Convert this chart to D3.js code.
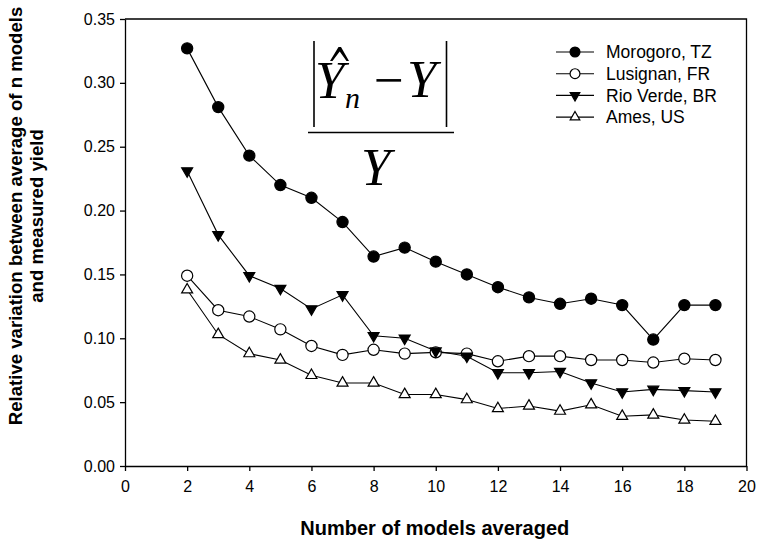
<!DOCTYPE html>
<html>
<head>
<meta charset="utf-8">
<script src="https://cdn.jsdelivr.net/npm/d3@7"></script>
<style>
  html, body { margin: 0; padding: 0; background: #fff; }
  svg { display: block; }
</style>
</head>
<body>
<svg id="chart" width="764" height="549"></svg>
<script>
// Number of models averaged (x) and relative yield error per site
const nModels = [2, 3, 4, 5, 6, 7, 8, 9, 10, 11, 12, 13, 14, 15, 16, 17, 18, 19];
const morogoro = [0.327, 0.281, 0.243, 0.220, 0.210, 0.191, 0.164, 0.171, 0.160, 0.150, 0.140, 0.132, 0.127, 0.131, 0.126, 0.099, 0.126, 0.126];
const lusignan = [0.149, 0.122, 0.117, 0.107, 0.094, 0.087, 0.091, 0.088, 0.089, 0.088, 0.082, 0.086, 0.086, 0.083, 0.083, 0.081, 0.084, 0.083];
const rioVerde = [0.231, 0.181, 0.149, 0.139, 0.123, 0.134, 0.102, 0.100, 0.090, 0.086, 0.073, 0.073, 0.074, 0.065, 0.058, 0.060, 0.059, 0.058];
const ames     = [0.138, 0.103, 0.088, 0.083, 0.071, 0.065, 0.065, 0.056, 0.056, 0.052, 0.045, 0.047, 0.043, 0.048, 0.039, 0.040, 0.036, 0.035];

const seriesNames = ["Morogoro, TZ", "Lusignan, FR", "Rio Verde, BR", "Ames, US"];
const seriesValues = [morogoro, lusignan, rioVerde, ames];
const seriesMarkers = ["circleFilled", "circleOpen", "triangleDownFilled", "triangleUpOpen"];

const xTicks = [0, 2, 4, 6, 8, 10, 12, 14, 16, 18, 20];
const yTicks = [0, 0.05, 0.10, 0.15, 0.20, 0.25, 0.30, 0.35];

const xTitle = "Number of models averaged";
const yTitleLines = ["Relative variation between average of n models", "and measured yield"];

const svg = d3.select("#chart");
const plot = { left: 125, right: 746.5, top: 19, bottom: 466 };

const x = d3.scaleLinear().domain([0, 20]).range([plot.left, plot.right]);
const y = d3.scaleLinear().domain([0, 0.35]).range([plot.bottom, plot.top]);

const sans = "Liberation Sans, Arial, sans-serif";
const serif = "Liberation Serif, Times New Roman, serif";

// Frame: top and right edges
svg.append("path")
  .attr("d", `M${plot.left},${plot.top}H${plot.right}V${plot.bottom}`)
  .attr("fill", "none").attr("stroke", "#000").attr("stroke-width", 1.3);

// Axes
const xAxis = svg.append("g")
  .attr("transform", `translate(0,${plot.bottom})`)
  .call(d3.axisBottom(x).tickValues(xTicks).tickFormat(d3.format("d")).tickSizeOuter(0).tickSizeInner(5).tickPadding(10));
const yAxis = svg.append("g")
  .attr("transform", `translate(${plot.left},0)`)
  .call(d3.axisLeft(y).tickValues(yTicks).tickFormat(d3.format(".2f")).tickSizeOuter(0).tickSizeInner(5).tickPadding(5));

[xAxis, yAxis].forEach(g => {
  g.select(".domain").attr("stroke", "#000").attr("stroke-width", 1.3);
  g.selectAll(".tick line").attr("stroke", "#000").attr("stroke-width", 1.3);
  g.selectAll(".tick text").attr("fill", "#000").attr("font-family", sans).attr("font-size", 16);
});

// Axis titles
svg.append("text")
  .attr("x", (plot.left + plot.right) / 2 - 1)
  .attr("y", 535)
  .attr("text-anchor", "middle")
  .attr("font-family", sans).attr("font-weight", "bold").attr("font-size", 20)
  .text(xTitle);

const yTitle = svg.append("text")
  .attr("transform", "translate(0,216) rotate(-90)")
  .attr("text-anchor", "middle")
  .attr("font-family", sans).attr("font-weight", "bold").attr("font-size", 18.6);
yTitle.selectAll("tspan").data(yTitleLines).join("tspan")
  .attr("x", 0)
  .attr("y", (d, i) => 22 + i * 21)
  .text(d => d);

// Marker drawing
function drawMarker(g, kind, cx, cy, scale) {
  const s = scale || 1;
  if (kind === "circleFilled" || kind === "circleOpen") {
    g.append("circle")
      .attr("cx", cx).attr("cy", cy).attr("r", 5.6 * s)
      .attr("fill", kind === "circleFilled" ? "#000" : "#fff")
      .attr("stroke", "#000").attr("stroke-width", 1.2);
  } else {
    const sym = d3.symbol().type(d3.symbolTriangle).size(52 * s * s);
    g.append("path")
      .attr("d", sym())
      .attr("transform", `translate(${cx},${cy})` + (kind === "triangleDownFilled" ? " rotate(180)" : ""))
      .attr("fill", kind === "triangleDownFilled" ? "#000" : "#fff")
      .attr("stroke", "#000").attr("stroke-width", 1.2);
  }
}

// Series lines and markers
const line = d3.line().x(d => x(d[0])).y(d => y(d[1]));
seriesValues.forEach((vals, si) => {
  const pts = nModels.map((n, i) => [n, vals[i]]);
  const g = svg.append("g");
  g.append("path").attr("d", line(pts))
    .attr("fill", "none").attr("stroke", "#000").attr("stroke-width", 1.1);
  pts.forEach(p => drawMarker(g, seriesMarkers[si], x(p[0]), y(p[1]), 1));
});

// Legend
const legend = svg.append("g");
seriesNames.forEach((name, i) => {
  const ly = 52 + i * 21.7;
  legend.append("line").attr("x1", 556).attr("x2", 594).attr("y1", ly).attr("y2", ly)
    .attr("stroke", "#000").attr("stroke-width", 1.1);
  drawMarker(legend, seriesMarkers[i], 575, ly, 0.88);
  legend.append("text")
    .attr("x", 606).attr("y", ly + 6.3)
    .attr("font-family", sans).attr("font-size", 17.5)
    .text(name);
});

// Formula |Ŷn − Y| / Y
const f = svg.append("g").attr("fill", "#000");
f.append("line").attr("x1", 314).attr("x2", 314).attr("y1", 41).attr("y2", 127)
  .attr("stroke", "#000").attr("stroke-width", 1.6);
f.append("line").attr("x1", 446.5).attr("x2", 446.5).attr("y1", 41).attr("y2", 127)
  .attr("stroke", "#000").attr("stroke-width", 1.6);
f.append("line").attr("x1", 308).attr("x2", 454).attr("y1", 132.5).attr("y2", 132.5)
  .attr("stroke", "#000").attr("stroke-width", 1.6);
f.append("text").attr("x", 315).attr("y", 98)
  .attr("font-family", serif).attr("font-style", "italic").attr("font-size", 53).text("Y");
// hat accent over the estimate
f.append("path")
  .attr("d", "M330,61 L338.5,47 L341,47 L349,61 L346.5,61 L339.7,51.5 L332.5,61 Z");
f.append("text").attr("x", 345).attr("y", 108)
  .attr("font-family", serif).attr("font-style", "italic").attr("font-size", 30).text("n");
f.append("text").attr("x", 374).attr("y", 98)
  .attr("font-family", serif).attr("font-size", 53).text("−");
f.append("text").attr("x", 407).attr("y", 97)
  .attr("font-family", serif).attr("font-style", "italic").attr("font-size", 53).text("Y");
f.append("text").attr("x", 361).attr("y", 185)
  .attr("font-family", serif).attr("font-style", "italic").attr("font-size", 53).text("Y");
</script>
</body>
</html>
